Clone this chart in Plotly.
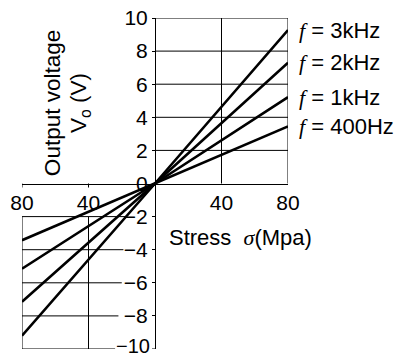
import plotly.graph_objects as go

# ---- data ----
stress = [-80, 0, 80]
series_names = ["3kHz", "2kHz", "1kHz", "400Hz"]
v_at_neg80 = [-9.2, -7.15, -5.15, -3.43]
v_at_pos80 = [9.27, 7.3, 5.22, 3.45]

x_tickvals = [-80, -40, 40, 80]
x_ticktext = ["80", "40", "40", "80"]
y_tickvals = [-8, -6, -4, -2, 0, 2, 4, 6, 8, 10]
y_bottom_tick = -10

FONT = "Liberation Sans, Arial, sans-serif"
SERIF = "Liberation Serif, Times New Roman, serif"

fig = go.Figure()

for name, vn, vp in zip(series_names, v_at_neg80, v_at_pos80):
    fig.add_trace(go.Scatter(
        x=stress, y=[vn, 0, vp], mode="lines",
        line=dict(color="black", width=2.6),
        name=name, showlegend=False, cliponaxis=False, hoverinfo="skip"))

shapes = []
def seg(x0, y0, x1, y1, w=1):
    shapes.append(dict(type="line", xref="x", yref="y", x0=x0, y0=y0, x1=x1, y1=y1,
                       line=dict(color="black", width=w), layer="below"))

# upper-right grid box
for yv in [2, 4, 6, 8, 10]:
    seg(0, yv, 80, yv)
seg(40, 0, 40, 10)
seg(80, 0, 80, 10)

# lower-left grid box (lines stop before the tick labels)
lower_ends = {-2: -18, -4: -19, -6: -20, -8: -22, -10: -24}
for yv, xe in lower_ends.items():
    seg(-80, yv, xe, yv)
seg(-80, -2, -80, -10)
seg(-40, -2, -40, -10)

# small ticks below the x axis on the left side
for xv in [-80, -40]:
    shapes.append(dict(type="line", xref="x", yref="y", ysizemode="pixel", yanchor=0,
                       x0=xv, x1=xv, y0=0, y1=-4, line=dict(color="black", width=1)))
# tick at the bottom of the y axis
shapes.append(dict(type="line", xref="x", yref="y", xsizemode="pixel", xanchor=0,
                   x0=0, x1=-3, y0=y_bottom_tick, y1=y_bottom_tick,
                   line=dict(color="black", width=1)))

annotations = []
for name, vp in zip(series_names, v_at_pos80):
    annotations.append(dict(
        xref="paper", yref="y", x=1.035, y=vp, xanchor="left", yanchor="middle",
        showarrow=False,
        text=f"<span style=\"font-family:{SERIF}\"><i>f</i></span> = {name}",
        font=dict(family=FONT, size=22, color="black")))

annotations.append(dict(
    xref="x", yref="y", x=7.5, y=-3.27, xanchor="left", yanchor="middle", showarrow=False,
    text=f"Stress\u00a0\u00a0<span style=\"font-family:{SERIF}\"><i>σ</i></span>(Mpa)",
    font=dict(family=FONT, size=22, color="black")))

annotations.append(dict(
    xref="paper", yref="paper", x=0.113, y=0.743, xanchor="center", yanchor="middle",
    showarrow=False, textangle=-90, text="Output voltage",
    font=dict(family=FONT, size=22.5, color="black")))
annotations.append(dict(
    xref="paper", yref="paper", x=0.218, y=0.743, xanchor="center", yanchor="middle",
    showarrow=False, textangle=-90, text="V<sub>o</sub> (V)",
    font=dict(family=FONT, size=22.5, color="black")))

annotations.append(dict(
    xref="x", yref="y", x=0, y=y_bottom_tick, xanchor="right", yanchor="middle",
    xshift=-3, yshift=3, showarrow=False, text="\u221210",
    font=dict(family=FONT, size=20, color="black")))

fig.update_layout(
    width=397, height=358,
    margin=dict(l=22, r=109, t=18, b=9, pad=0),
    paper_bgcolor="white", plot_bgcolor="white",
    shapes=shapes, annotations=annotations,
    font=dict(family=FONT, color="black"),
    xaxis=dict(range=[-80, 80], anchor="free", position=0.5, showline=True,
               linecolor="black", linewidth=1, showgrid=False, zeroline=False,
               tickvals=x_tickvals, ticktext=x_ticktext, ticks="",
               tickfont=dict(size=21, family=FONT, color="black"), automargin=False),
    yaxis=dict(range=[-10, 10], anchor="free", position=0.5, showline=True,
               linecolor="black", linewidth=1, showgrid=False, zeroline=False,
               tickvals=y_tickvals, ticks="outside", ticklen=3, tickcolor="black",
               tickfont=dict(size=21, family=FONT, color="black"), automargin=False),
)

fig.write_html("out.html")
